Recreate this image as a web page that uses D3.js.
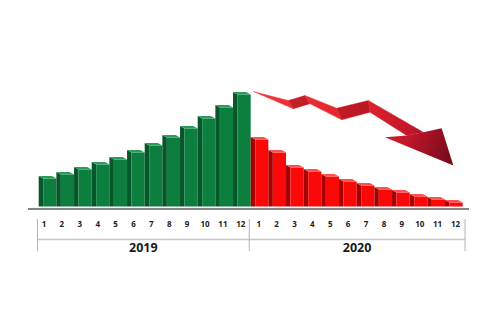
<!DOCTYPE html>
<html>
<head>
<meta charset="utf-8">
<script src="https://cdn.jsdelivr.net/npm/d3@7"></script>
<style>
  body { margin: 0; background: #fff; }
  text { font-family: "Open Sans", "Liberation Sans", sans-serif; }
</style>
</head>
<body>
<div id="chart"></div>
<script>
const width = 500, height = 333;

// data (arbitrary units, baseline = 0)
const months = ["1", "2", "3", "4", "5", "6", "7", "8", "9", "10", "11", "12"];
const years = ["2019", "2020"];
const values2019 = [28, 32, 37, 42, 47, 54, 61, 69, 78, 88, 99, 112];
const values2020 = [67, 54, 39, 35, 30, 25, 21, 17, 14, 10, 7, 4];

// falling arrow, in [month index, value] units
const arrowTop = [[12.15, 115], [14.13, 106], [15.07, 111], [16.87, 98.3], [18.66, 106], [21.77, 74.3]];
const arrowBottom = [[12.15, 115], [14.41, 97.7], [15.36, 102.7], [17.15, 86.7], [18.75, 94.3], [20.83, 71]];
const arrowHead = [[21.77, 74.3], [22.81, 78.3], [23.47, 41], [19.6, 69.3], [20.83, 71]];

const colors = {
  "2019": { front: "#0c7f3f", side: "#06562a", top: "#2b9c5c" },
  "2020": { front: "#fb0909", side: "#a80000", top: "#ff5050" }
};

const data = [];
years.forEach((yr, i) => {
  const vals = i === 0 ? values2019 : values2020;
  months.forEach((m, j) => data.push({ key: yr + "-" + m, year: yr, month: m, value: vals[j] }));
});
const keys = data.map(d => d.key);

const x = d3.scaleBand().domain(keys).range([38.7, 462.7]).padding(0);
const xIdx = d3.scaleLinear().domain([0, 24]).range([38.7, 462.7]);
const xLabel = d3.scalePoint().domain(keys).range([43.5, 455]);
const y = d3.scaleLinear().domain([0, 120]).range([206.5, 86.5]);

const dx = 4.5, dy = 2.5;

const svg = d3.select("#chart").append("svg")
    .attr("width", width)
    .attr("height", height)
    .attr("viewBox", [0, 0, width, height]);

// bars with a dark left side and a light cap
const bar = svg.append("g").selectAll("g")
  .data(data)
  .join("g");

bar.append("polygon")
    .attr("fill", d => colors[d.year].side)
    .attr("points", d => {
      const x0 = x(d.key), yt = y(d.value), yb = y(0);
      return [[x0, yt - dy], [x0 + dx, yt], [x0 + dx, yb], [x0, yb]].join(" ");
    });

bar.append("rect")
    .attr("fill", d => colors[d.year].front)
    .attr("x", d => x(d.key) + dx)
    .attr("y", d => y(d.value))
    .attr("width", x.bandwidth() - dx)
    .attr("height", d => y(0) - y(d.value));

bar.append("polygon")
    .attr("fill", d => colors[d.year].top)
    .attr("points", d => {
      const x0 = x(d.key), x1 = x0 + x.bandwidth(), yt = y(d.value);
      return [[x0, yt - dy], [x1 - dx, yt - dy], [x1, yt], [x0 + dx, yt]].join(" ");
    });

// baseline
svg.append("line")
    .attr("x1", 28).attr("x2", 469)
    .attr("y1", 209).attr("y2", 209)
    .attr("stroke", "#5c5c5c")
    .attr("stroke-width", 1.6);

// month labels
svg.append("g")
    .attr("transform", "translate(0,227)")
    .call(d3.axisBottom(xLabel).tickSize(0).tickPadding(0).tickFormat(d => d.split("-")[1]))
    .call(g => g.select(".domain").remove())
    .call(g => g.selectAll("text")
        .attr("dy", 0)
        .attr("fill", "#222")
        .attr("font-size", 8)
        .attr("font-weight", "bold")
        .attr("font-family", "'Open Sans', sans-serif"));

// year brackets
const bounds = [
  xLabel(keys[0]) - 6,
  (xLabel(keys[11]) + xLabel(keys[12])) / 2,
  xLabel(keys[23]) + 10
];

const bracket = svg.append("g").attr("stroke", "#b4b4b4");
bracket.append("line")
    .attr("x1", bounds[0]).attr("x2", bounds[2])
    .attr("y1", 239.5).attr("y2", 239.5)
    .attr("stroke", "#c8c8c8")
    .attr("stroke-width", 1.5);
bracket.selectAll(".tick")
  .data(bounds)
  .join("line")
    .attr("x1", d => d).attr("x2", d => d)
    .attr("y1", 219).attr("y2", 251)
    .attr("stroke-width", 1);

svg.append("g").selectAll("text")
  .data(years)
  .join("text")
    .attr("x", (d, i) => (bounds[i] + bounds[i + 1]) / 2)
    .attr("y", 251.5)
    .attr("text-anchor", "middle")
    .attr("font-size", 12.5)
    .attr("font-weight", "bold")
    .attr("fill", "#1a1a1a")
    .text(d => d);

// arrow
const defs = svg.append("defs");
const grad = defs.append("linearGradient")
    .attr("id", "arrowGrad")
    .attr("gradientUnits", "userSpaceOnUse")
    .attr("x1", xIdx(arrowTop[0][0])).attr("y1", y(arrowTop[0][1]))
    .attr("x2", xIdx(arrowHead[2][0])).attr("y2", y(arrowHead[2][1]));
grad.selectAll("stop")
  .data([["0", "#f3383a"], ["0.5", "#e0222c"], ["0.75", "#c4162a"], ["1", "#6f0a1c"]])
  .join("stop")
    .attr("offset", d => d[0])
    .attr("stop-color", d => d[1]);

const pt = p => [xIdx(p[0]), y(p[1])];
const arrow = svg.append("g");

d3.range(arrowTop.length - 1).forEach(i => {
  const quad = [arrowTop[i], arrowTop[i + 1], arrowBottom[i + 1], arrowBottom[i]].map(pt);
  arrow.append("polygon")
      .attr("points", quad.join(" "))
      .attr("fill", "url(#arrowGrad)")
      .attr("stroke", "url(#arrowGrad)")
      .attr("stroke-width", 0.4);
  if (i === 1 || i === 3) {
    arrow.append("polygon")
        .attr("points", quad.join(" "))
        .attr("fill", "#6a0010")
        .attr("opacity", 0.3);
  }
});

arrow.append("polygon")
    .attr("points", arrowHead.map(pt).join(" "))
    .attr("fill", "url(#arrowGrad)");
</script>
</body>
</html>
